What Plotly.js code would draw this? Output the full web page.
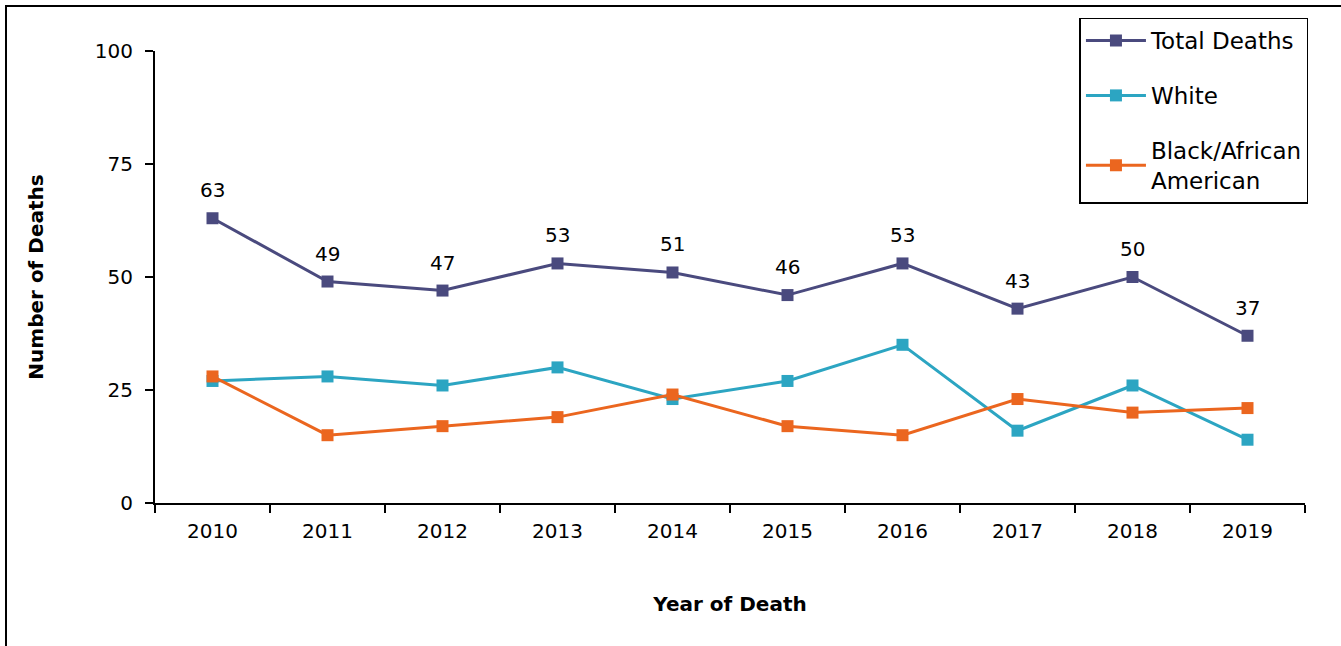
<!DOCTYPE html>
<html><head><meta charset="utf-8">
<script src="https://cdn.plot.ly/plotly-3.0.1.min.js"></script>
<style>
html,body{margin:0;padding:0;background:#fff;overflow:hidden}
#frame{position:absolute;left:5px;top:5px;width:3000px;height:3000px;border-left:2px solid #000;border-top:2px solid #000;box-sizing:border-box}
#chart{position:absolute;left:0;top:0;width:1341px;height:646px}
</style></head>
<body>
<div id="frame"></div>
<div id="chart"></div>
<script>
const years = ['2010','2011','2012','2013','2014','2015','2016','2017','2018','2019'];
const totalDeaths = [63,49,47,53,51,46,53,43,50,37];
const white = [27,28,26,30,23,27,35,16,26,14];
const black = [28,15,17,19,24,17,15,23,20,21];

const FONT = 'DejaVu Sans, sans-serif';
function tr(name, y, color, group){
  return {
    x: years, y: y, name: name, type: 'scatter', mode: 'lines+markers',
    line: {color: color, width: 3},
    marker: {symbol: 'square', size: 12, color: color},
    legendgroup: group, cliponaxis: false
  };
}
const data = [
  tr('Total Deaths', totalDeaths, '#4A4A7E', 'g1'),
  tr('White', white, '#2CA5C2', 'g2'),
  tr('Black/African<br>American', black, '#EB661F', 'g3')
];
const labels = years.map((yr, i) => ({
  x: i, y: totalDeaths[i], text: String(totalDeaths[i]), showarrow: false,
  xref: 'x', yref: 'y',
  yanchor: 'bottom', yshift: 14, font: {size: 20, family: FONT, color: '#000'}
}));
const layout = {
  width: 1341, height: 646,
  margin: {l:155, r:36, t:51, b:143},
  paper_bgcolor: 'rgba(0,0,0,0)', plot_bgcolor: 'rgba(0,0,0,0)',
  font: {family: FONT, size: 20, color: '#000'},
  showlegend: true,
  annotations: labels,
  xaxis: {
    type: 'category', tickson: 'boundaries', ticks: 'outside', ticklen: 8, tickwidth: 2, tickcolor: '#000',
    showline: true, linecolor: '#000', linewidth: 2, showgrid: false, zeroline: false,
    tickfont: {size: 20}, range: [-0.5, 9.5], ticklabelstandoff: 9,
    title: {text: '<b>Year of Death</b>', font: {size: 20}, standoff: 55}
  },
  yaxis: {
    range: [0, 100], tickvals: [0,25,50,75,100], ticks: 'outside', ticklen: 8, tickwidth: 2, tickcolor: '#000',
    showline: true, linecolor: '#000', linewidth: 2, showgrid: false, zeroline: false,
    tickfont: {size: 20}, ticklabelstandoff: 8,
    title: {text: '<b>Number of Deaths</b>', font: {size: 20}, standoff: 46}
  },
  legend: {
    x: 1.003, xanchor: 'right', y: 1.074, yanchor: 'top',
    bordercolor: '#000', borderwidth: 1.5, bgcolor: '#fff',
    font: {size: 23, family: FONT}, tracegroupgap: 22, traceorder: 'grouped', itemwidth: 60
  }
};
Plotly.newPlot('chart', data, layout, {displayModeBar: false, staticPlot: true});
</script>
</body></html>
